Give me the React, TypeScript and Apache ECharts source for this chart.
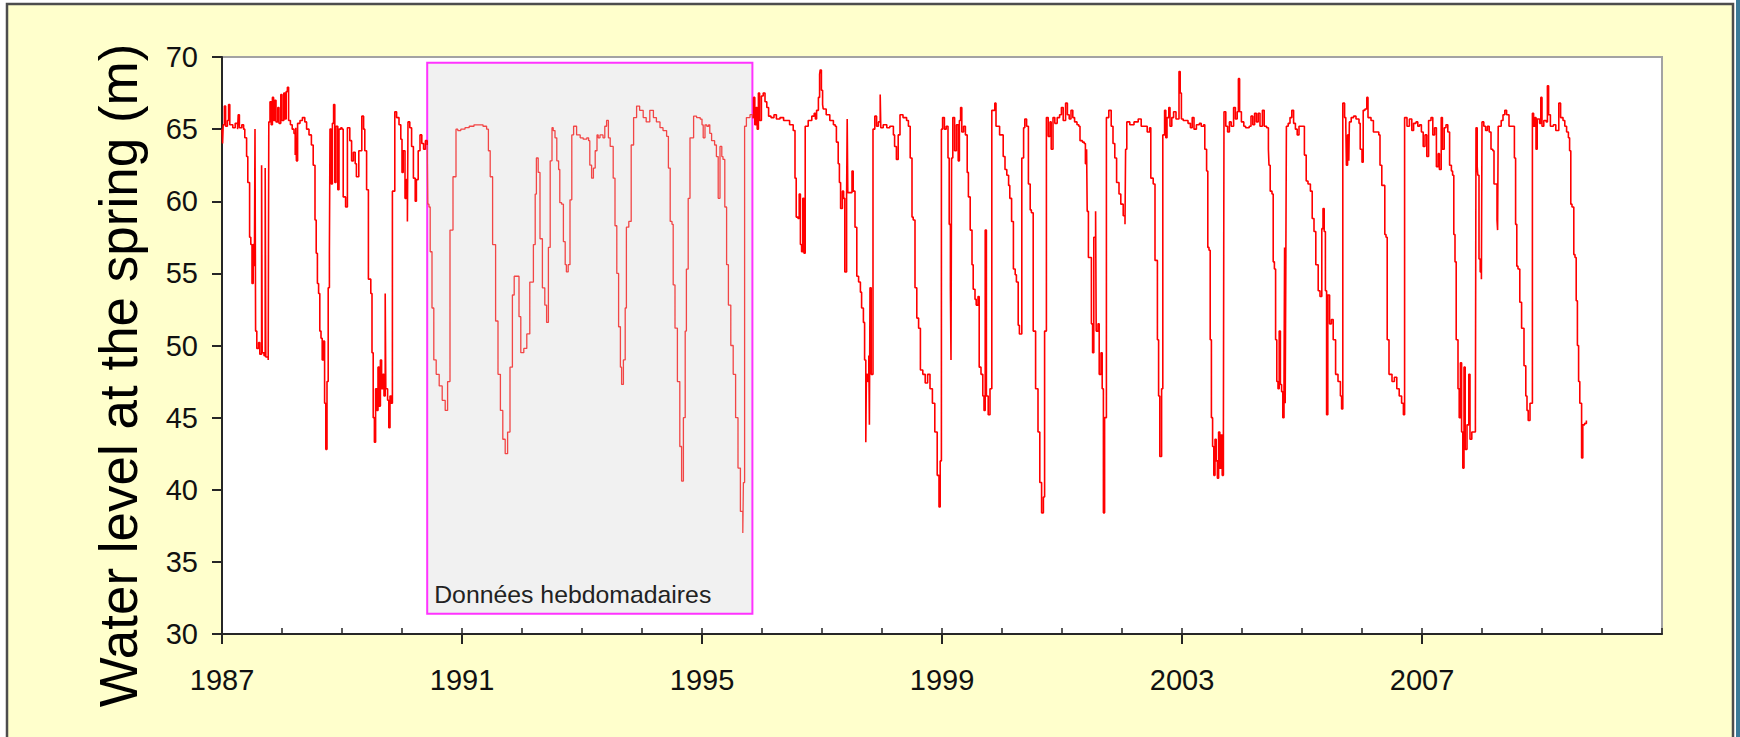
import React, { useEffect, useRef } from "react";
import * as echarts from "echarts";

// ---- axis setup ----
const BASE_YEAR = 1987; // x values are years elapsed since 1 Jan 1987
const X_MIN = 0;
const X_MAX = 24;
const X_MAJOR = 4;
const Y_MIN = 30;
const Y_MAX = 70;
const Y_STEP = 5;
const Y_TITLE = "Water level at the spring (m)";

// ---- weekly-data period (shaded box) ----
const BOX_LABEL = "Données hebdomadaires";
const BOX_YEARS = [3.42, 8.84];
const BOX_LEVELS = [31.4, 69.6];

// ---- water level readings: [years since 1987, level in m] ----
const DAILY_1987_1990: [number, number][] = [
  [0.0, 65.0], [0.01, 64.0], [0.02, 65.3], [0.04, 66.6], [0.06, 65.2], [0.09, 65.6], [0.11, 66.7], [0.13, 65.3],
  [0.18, 65.1], [0.22, 65.4], [0.26, 65.0], [0.27, 66.0], [0.29, 65.1], [0.33, 65.3], [0.36, 65.0], [0.38, 64.4],
  [0.41, 63.1], [0.43, 61.3], [0.46, 57.5], [0.48, 57.0], [0.5, 54.3], [0.52, 57.0], [0.54, 55.5], [0.55, 65.0],
  [0.56, 51.0], [0.58, 49.8], [0.61, 50.2], [0.63, 49.4], [0.66, 62.5], [0.67, 49.5], [0.7, 49.3], [0.72, 62.3],
  [0.73, 49.2], [0.77, 49.0], [0.78, 65.5], [0.8, 66.9], [0.82, 65.3], [0.84, 67.2], [0.86, 65.6], [0.88, 67.0],
  [0.9, 65.5], [0.93, 66.5], [0.95, 65.4], [0.98, 67.4], [1.0, 65.6], [1.03, 67.5], [1.05, 65.7], [1.07, 67.6],
  [1.09, 67.9], [1.11, 65.6], [1.14, 65.3], [1.17, 65.0], [1.2, 64.7], [1.22, 63.2], [1.23, 65.1], [1.24, 62.8],
  [1.26, 65.4], [1.3, 65.6], [1.34, 65.8], [1.38, 65.5], [1.41, 65.0], [1.45, 64.6], [1.49, 63.9], [1.52, 62.5],
  [1.55, 58.7], [1.57, 56.4], [1.59, 54.3], [1.61, 53.6], [1.63, 51.0], [1.65, 50.5], [1.67, 49.0], [1.69, 50.3],
  [1.71, 46.0], [1.73, 42.8], [1.75, 47.5], [1.77, 54.0], [1.79, 56.4], [1.8, 65.0], [1.82, 61.2], [1.84, 65.4],
  [1.86, 66.7], [1.88, 61.3], [1.9, 65.2], [1.93, 60.8], [1.95, 65.0], [1.98, 65.1], [2.0, 65.0], [2.02, 60.3],
  [2.06, 59.6], [2.09, 65.1], [2.13, 64.2], [2.16, 62.8], [2.19, 63.4], [2.22, 62.6], [2.24, 61.7], [2.28, 63.5],
  [2.33, 65.9], [2.36, 65.0], [2.38, 63.5], [2.41, 60.8], [2.44, 54.6], [2.48, 53.6], [2.5, 49.5], [2.52, 45.0],
  [2.54, 43.3], [2.56, 47.0], [2.58, 45.5], [2.6, 48.5], [2.62, 45.8], [2.64, 49.0], [2.66, 47.0], [2.68, 48.0],
  [2.7, 46.5], [2.72, 53.6], [2.73, 47.0], [2.76, 46.2], [2.78, 44.3], [2.8, 46.5], [2.82, 46.0], [2.84, 60.7],
  [2.88, 66.2], [2.91, 65.8], [2.95, 65.3], [2.98, 64.3], [3.0, 62.0], [3.02, 63.5], [3.05, 60.2], [3.07, 61.5],
  [3.09, 58.6], [3.1, 65.5], [3.13, 65.1], [3.16, 63.8], [3.19, 61.6], [3.22, 60.0], [3.24, 61.5], [3.27, 63.5],
  [3.3, 64.6], [3.33, 64.0], [3.36, 63.6], [3.39, 64.2], [3.42, 63.9],
];

const WEEKLY_1990_1995: [number, number][] = [
  [3.42, 63.9], [3.43, 59.8], [3.45, 59.6], [3.47, 56.5], [3.5, 52.6], [3.53, 49.0], [3.57, 48.0], [3.62, 47.2],
  [3.67, 46.2], [3.72, 45.5], [3.76, 47.5], [3.8, 58.0], [3.85, 61.7], [3.9, 65.0], [3.93, 64.9], [3.98, 65.0],
  [4.05, 65.1], [4.12, 65.2], [4.2, 65.3], [4.27, 65.3], [4.35, 65.2], [4.41, 65.0], [4.44, 63.5], [4.47, 61.7],
  [4.51, 57.0], [4.56, 51.7], [4.6, 48.0], [4.64, 45.5], [4.68, 43.5], [4.72, 42.5], [4.76, 44.0], [4.8, 48.5],
  [4.84, 53.5], [4.87, 54.8], [4.91, 54.8], [4.95, 52.0], [4.98, 49.5], [5.03, 49.8], [5.08, 50.8], [5.13, 54.4],
  [5.19, 57.0], [5.22, 60.5], [5.24, 63.0], [5.27, 62.0], [5.3, 57.4], [5.34, 54.0], [5.38, 52.8], [5.41, 51.6],
  [5.44, 56.8], [5.47, 62.8], [5.5, 65.1], [5.52, 64.9], [5.55, 64.4], [5.58, 62.8], [5.61, 62.2], [5.63, 59.9],
  [5.66, 59.8], [5.69, 57.2], [5.72, 55.6], [5.74, 55.1], [5.77, 55.6], [5.8, 60.1], [5.83, 64.6], [5.86, 65.2],
  [5.91, 64.6], [5.97, 64.4], [6.02, 64.3], [6.08, 64.4], [6.11, 64.2], [6.13, 62.5], [6.16, 61.6], [6.19, 62.3],
  [6.22, 63.5], [6.25, 64.6], [6.27, 64.4], [6.3, 64.6], [6.35, 64.4], [6.38, 65.2], [6.41, 65.6], [6.44, 64.4],
  [6.47, 63.8], [6.5, 63.8], [6.52, 61.6], [6.55, 58.3], [6.58, 55.0], [6.61, 51.3], [6.64, 48.5], [6.66, 47.3],
  [6.69, 49.0], [6.72, 52.6], [6.74, 58.2], [6.78, 58.6], [6.82, 63.9], [6.86, 65.8], [6.91, 66.6], [6.96, 66.3],
  [7.02, 65.8], [7.07, 65.5], [7.13, 66.3], [7.19, 65.8], [7.24, 65.5], [7.3, 65.1], [7.35, 64.9], [7.41, 64.5],
  [7.44, 62.3], [7.47, 58.6], [7.5, 58.4], [7.52, 54.2], [7.55, 51.2], [7.59, 47.5], [7.63, 43.0], [7.66, 40.6],
  [7.69, 45.0], [7.72, 51.0], [7.74, 55.3], [7.77, 60.2], [7.8, 64.4], [7.86, 65.9], [7.91, 65.8], [7.97, 65.7],
  [8.0, 65.3], [8.02, 64.4], [8.05, 65.3], [8.08, 65.2], [8.11, 65.3], [8.13, 64.7], [8.16, 64.2], [8.21, 63.9],
  [8.24, 63.1], [8.27, 60.2], [8.3, 63.8], [8.33, 63.1], [8.35, 62.9], [8.38, 59.6], [8.41, 55.6], [8.44, 52.8],
  [8.48, 50.0], [8.52, 48.0], [8.56, 45.0], [8.6, 41.5], [8.64, 38.5], [8.68, 37.0], [8.69, 40.5], [8.71, 65.2],
  [8.74, 65.8], [8.8, 66.0], [8.84, 65.8],
];

const DAILY_1995_2001: [number, number][] = [
  [8.84, 65.8], [8.86, 67.2], [8.88, 65.3], [8.9, 66.5], [8.92, 65.0], [8.94, 67.5], [8.96, 65.6], [8.99, 67.3],
  [9.02, 67.5], [9.05, 66.9], [9.08, 66.5], [9.11, 65.9], [9.15, 65.8], [9.2, 66.0], [9.24, 65.7], [9.3, 65.8],
  [9.36, 65.6], [9.41, 65.6], [9.46, 65.3], [9.52, 64.9], [9.55, 61.6], [9.57, 58.9], [9.6, 58.8], [9.62, 60.5],
  [9.64, 57.0], [9.66, 56.5], [9.68, 60.2], [9.7, 56.4], [9.72, 65.2], [9.77, 65.6], [9.83, 65.9], [9.87, 66.1],
  [9.89, 65.7], [9.91, 66.3], [9.94, 67.2], [9.96, 68.8], [9.97, 69.1], [9.99, 67.7], [10.01, 66.7], [10.02, 66.4],
  [10.07, 66.0], [10.13, 65.6], [10.19, 65.3], [10.22, 65.2], [10.24, 64.1], [10.27, 62.6], [10.29, 61.3], [10.31, 59.5],
  [10.34, 60.7], [10.36, 60.2], [10.38, 55.1], [10.41, 60.3], [10.42, 65.7], [10.43, 60.6], [10.47, 60.6], [10.5, 62.1],
  [10.52, 60.7], [10.55, 58.2], [10.58, 54.8], [10.61, 54.4], [10.64, 53.7], [10.66, 52.6], [10.69, 51.6], [10.71, 49.0],
  [10.73, 43.3], [10.74, 48.0], [10.76, 47.5], [10.78, 49.3], [10.79, 44.5], [10.8, 54.0], [10.82, 48.0], [10.85, 65.0],
  [10.88, 65.9], [10.91, 65.2], [10.94, 65.5], [10.97, 67.4], [10.98, 65.1], [11.02, 65.3], [11.08, 65.1], [11.13, 65.2],
  [11.19, 64.6], [11.21, 63.8], [11.24, 62.9], [11.27, 64.6], [11.3, 66.0], [11.35, 65.8], [11.41, 65.6], [11.44, 65.2],
  [11.47, 63.0], [11.5, 58.9], [11.52, 58.7], [11.55, 54.0], [11.58, 51.9], [11.61, 51.2], [11.64, 48.3], [11.68, 48.0],
  [11.72, 47.4], [11.76, 48.0], [11.8, 47.0], [11.84, 46.0], [11.88, 44.0], [11.92, 41.0], [11.95, 38.8], [11.97, 42.0],
  [11.99, 65.0], [12.01, 65.8], [12.04, 65.0], [12.07, 65.2], [12.1, 63.0], [12.12, 58.4], [12.14, 54.0], [12.15, 49.0],
  [12.16, 63.0], [12.18, 65.8], [12.21, 63.5], [12.24, 65.3], [12.27, 62.8], [12.29, 65.6], [12.31, 66.5], [12.33, 64.8],
  [12.36, 65.2], [12.39, 64.6], [12.42, 62.0], [12.44, 60.3], [12.47, 58.0], [12.5, 55.6], [12.52, 53.9], [12.55, 53.2],
  [12.57, 52.8], [12.6, 53.4], [12.62, 48.5], [12.65, 48.0], [12.68, 46.5], [12.7, 45.5], [12.72, 58.0], [12.74, 46.5],
  [12.77, 45.2], [12.8, 47.0], [12.83, 66.3], [12.88, 66.8], [12.9, 65.2], [12.93, 65.2], [12.96, 64.6], [13.02, 63.1],
  [13.05, 62.2], [13.08, 61.8], [13.11, 61.1], [13.13, 60.2], [13.16, 58.6], [13.19, 55.3], [13.22, 54.9], [13.24, 54.4],
  [13.27, 51.4], [13.29, 50.8], [13.33, 63.0], [13.36, 65.1], [13.38, 65.7], [13.41, 65.2], [13.44, 61.2], [13.47, 59.4],
  [13.49, 59.2], [13.52, 51.0], [13.56, 47.0], [13.6, 44.0], [13.63, 40.5], [13.66, 38.4], [13.69, 39.5], [13.71, 51.0],
  [13.74, 65.8], [13.77, 64.5], [13.8, 65.5], [13.82, 63.6], [13.85, 65.8], [13.88, 65.4], [13.92, 65.8], [13.96, 66.0],
  [13.99, 66.5], [14.02, 65.6], [14.06, 66.8], [14.09, 66.0], [14.12, 65.7], [14.15, 66.3], [14.18, 65.8], [14.21, 65.5],
  [14.25, 65.3], [14.28, 65.2], [14.3, 64.2], [14.34, 64.1], [14.37, 64.0], [14.39, 62.6], [14.41, 63.6], [14.42, 59.3],
  [14.44, 56.1], [14.47, 56.1], [14.49, 51.5], [14.51, 49.5], [14.53, 57.5], [14.56, 59.3], [14.57, 51.0], [14.6, 51.5],
  [14.62, 48.0], [14.65, 49.5], [14.67, 47.0], [14.69, 38.4], [14.71, 45.0],
];

const DAILY_2001_2009: [number, number][] = [
  [14.74, 65.8], [14.78, 66.3], [14.82, 65.2], [14.85, 64.0], [14.88, 63.0], [14.91, 61.3], [14.95, 60.5], [14.98, 59.8],
  [15.02, 59.0], [15.05, 58.4], [15.06, 63.6], [15.08, 65.5], [15.13, 65.3], [15.2, 65.5], [15.27, 65.7], [15.32, 65.2],
  [15.39, 65.2], [15.42, 64.8], [15.46, 65.1], [15.48, 61.6], [15.52, 61.2], [15.55, 55.9], [15.59, 50.4], [15.61, 46.5],
  [15.63, 42.3], [15.66, 47.0], [15.68, 64.6], [15.71, 66.3], [15.73, 64.4], [15.75, 65.8], [15.78, 66.5], [15.8, 65.2],
  [15.83, 65.8], [15.86, 66.2], [15.9, 65.7], [15.95, 69.0], [15.97, 67.5], [15.99, 65.7], [16.02, 65.6], [16.1, 65.4],
  [16.14, 65.1], [16.17, 65.8], [16.2, 65.0], [16.24, 65.3], [16.29, 65.4], [16.32, 65.2], [16.36, 65.3], [16.38, 63.6],
  [16.41, 62.1], [16.43, 56.8], [16.45, 56.6], [16.47, 50.4], [16.49, 45.0], [16.51, 43.0], [16.53, 41.0], [16.55, 43.5],
  [16.57, 42.0], [16.59, 40.8], [16.61, 44.0], [16.63, 41.5], [16.65, 43.8], [16.67, 41.0], [16.69, 44.0], [16.7, 66.2],
  [16.73, 65.2], [16.76, 64.8], [16.79, 65.5], [16.82, 65.2], [16.86, 66.5], [16.89, 65.7], [16.92, 66.2], [16.94, 68.5],
  [16.96, 66.2], [16.99, 65.5], [17.03, 65.2], [17.06, 65.1], [17.12, 65.2], [17.15, 65.9], [17.18, 65.3], [17.21, 66.1],
  [17.24, 65.5], [17.27, 66.1], [17.3, 65.2], [17.34, 66.3], [17.37, 65.2], [17.41, 65.1], [17.44, 63.6], [17.45, 62.5],
  [17.47, 60.7], [17.5, 60.5], [17.52, 55.8], [17.54, 55.3], [17.56, 50.4], [17.58, 47.5], [17.6, 47.0], [17.62, 51.0],
  [17.64, 47.3], [17.66, 46.8], [17.68, 45.0], [17.7, 47.0], [17.71, 56.8], [17.72, 46.0], [17.73, 55.1], [17.74, 65.2],
  [17.77, 65.4], [17.8, 65.8], [17.83, 66.3], [17.86, 65.4], [17.89, 65.0], [17.92, 64.6], [17.95, 65.2], [18.01, 65.2],
  [18.04, 63.2], [18.07, 61.4], [18.1, 61.2], [18.14, 60.7], [18.17, 58.8], [18.2, 57.9], [18.23, 55.6], [18.27, 53.8],
  [18.3, 53.4], [18.33, 58.1], [18.35, 59.5], [18.37, 57.9], [18.39, 53.8], [18.41, 45.2], [18.43, 53.5], [18.46, 51.5],
  [18.49, 51.8], [18.52, 50.4], [18.56, 48.0], [18.6, 47.5], [18.64, 46.5], [18.66, 45.6], [18.68, 66.8], [18.71, 65.8],
  [18.73, 65.2], [18.74, 62.5], [18.76, 64.6], [18.78, 62.8], [18.79, 65.5], [18.82, 65.8], [18.86, 65.9], [18.9, 65.7],
  [18.95, 65.4], [18.97, 63.6], [19.0, 62.7], [19.02, 66.3], [19.05, 66.4], [19.08, 67.2], [19.1, 65.8], [19.15, 65.6],
  [19.19, 64.8], [19.25, 64.8], [19.28, 64.6], [19.3, 62.5], [19.33, 61.1], [19.36, 61.1], [19.38, 57.7], [19.4, 57.5],
  [19.42, 50.4], [19.45, 48.0], [19.5, 47.5], [19.54, 47.8], [19.58, 47.0], [19.62, 46.5], [19.66, 46.0], [19.69, 45.2],
  [19.71, 65.8], [19.75, 65.2], [19.79, 65.7], [19.83, 64.9], [19.86, 65.4], [19.9, 65.5], [19.93, 65.2], [19.96, 65.3],
  [19.99, 64.8], [20.02, 63.8], [20.05, 64.6], [20.08, 63.1], [20.11, 65.6], [20.15, 65.8], [20.18, 64.6], [20.21, 65.1],
  [20.24, 62.4], [20.27, 63.3], [20.29, 62.2], [20.32, 65.8], [20.34, 63.6], [20.37, 65.1], [20.4, 65.3], [20.43, 64.8],
  [20.46, 62.5], [20.49, 62.1], [20.51, 61.8], [20.53, 57.7], [20.55, 55.8], [20.57, 50.4], [20.6, 47.0], [20.62, 45.0],
  [20.64, 48.8], [20.66, 44.0], [20.68, 41.5], [20.7, 48.5], [20.72, 42.8], [20.75, 44.5], [20.78, 48.0], [20.8, 43.5],
  [20.83, 44.0], [20.86, 44.0], [20.89, 45.0], [20.9, 65.1], [20.92, 62.4], [20.93, 61.8], [20.95, 56.0], [20.97, 55.1],
  [20.99, 54.6], [21.0, 65.5], [21.03, 65.2], [21.06, 64.9], [21.09, 65.2], [21.12, 64.8], [21.15, 63.6], [21.18, 63.5],
  [21.2, 61.2], [21.23, 61.2], [21.25, 58.7], [21.26, 58.0], [21.27, 65.2], [21.29, 65.2], [21.32, 65.6], [21.35, 66.0],
  [21.38, 66.3], [21.41, 66.0], [21.45, 65.2], [21.5, 65.2], [21.54, 63.0], [21.56, 58.4], [21.58, 55.5], [21.6, 55.3],
  [21.63, 53.0], [21.66, 51.2], [21.68, 51.2], [21.7, 48.6], [21.73, 46.5], [21.75, 45.5], [21.77, 44.8], [21.8, 46.0],
  [21.84, 66.1], [21.86, 65.2], [21.88, 65.8], [21.9, 63.6], [21.92, 65.7], [21.96, 65.4], [21.98, 67.2], [22.0, 65.2],
  [22.03, 65.6], [22.07, 65.5], [22.09, 68.0], [22.11, 66.0], [22.14, 65.2], [22.19, 65.3], [22.23, 64.9], [22.28, 66.8],
  [22.31, 65.8], [22.35, 65.6], [22.38, 65.2], [22.41, 64.8], [22.44, 64.4], [22.46, 63.5], [22.48, 59.8], [22.5, 59.6],
  [22.53, 56.3], [22.55, 56.1], [22.57, 53.1], [22.59, 50.0], [22.61, 47.5], [22.63, 46.0], [22.66, 42.2], [22.68, 44.5],
  [22.71, 44.6], [22.74, 44.8],
];

const FONT = "'Liberation Sans', Arial, Helvetica, sans-serif";
const AXIS_COLOR = "#262626";

export default function App() {
  const ref = useRef<HTMLDivElement>(null);

  useEffect(() => {
    if (!ref.current) return;
    const chart = echarts.init(ref.current, undefined, { renderer: "svg" });
    const gridRect = { left: 222, top: 57, width: 1440, height: 577 };

    chart.setOption({
      animation: false,
      backgroundColor: "#ffffff",
      graphic: [
        {
          type: "rect",
          z: -1,
          silent: true,
          shape: { x: 7, y: 4, width: 1726, height: 760 },
          style: { fill: "#FFFFCC", stroke: "#4d4d4d", lineWidth: 2.5 },
        },
        {
          type: "rect",
          z: -1,
          silent: true,
          shape: { x: 1736, y: 0, width: 4, height: 737 },
          style: { fill: "#3B7A98" },
        },
      ],
      grid: [
        {
          ...gridRect,
          show: true,
          backgroundColor: "#ffffff",
          borderColor: "#A3A3A3",
          borderWidth: 2,
        },
        { ...gridRect, show: false },
      ],
      xAxis: [
        {
          type: "value",
          gridIndex: 0,
          min: X_MIN,
          max: X_MAX,
          interval: X_MAJOR,
          axisLine: { onZero: false, lineStyle: { color: AXIS_COLOR, width: 2 } },
          axisTick: { show: true, length: 10, lineStyle: { color: AXIS_COLOR, width: 2 } },
          axisLabel: {
            showMaxLabel: false,
            formatter: (v: number) => String(BASE_YEAR + v),
            fontFamily: FONT,
            fontSize: 29,
            color: "#111",
            margin: 31,
          },
          splitLine: { show: false },
        },
        {
          type: "value",
          gridIndex: 1,
          min: X_MIN,
          max: X_MAX,
          interval: 1,
          axisLine: { show: false, onZero: false },
          axisTick: { show: true, inside: true, length: 6, lineStyle: { color: AXIS_COLOR, width: 1.5 } },
          axisLabel: { show: false },
          splitLine: { show: false },
        },
      ],
      yAxis: [
        {
          type: "value",
          gridIndex: 0,
          min: Y_MIN,
          max: Y_MAX,
          interval: Y_STEP,
          name: Y_TITLE,
          nameLocation: "middle",
          nameRotate: 90,
          nameGap: 77,
          nameTextStyle: {
            fontFamily: FONT,
            fontSize: 53,
            color: "#000",
            padding: [0, 60, 0, 0],
          },
          axisLine: { show: true, onZero: false, lineStyle: { color: AXIS_COLOR, width: 2 } },
          axisTick: { show: true, length: 10, lineStyle: { color: AXIS_COLOR, width: 2 } },
          axisLabel: { fontFamily: FONT, fontSize: 29, color: "#111", margin: 24 },
          splitLine: { show: false },
        },
        { type: "value", gridIndex: 1, min: Y_MIN, max: Y_MAX, show: false },
      ],
      series: [
        {
          type: "line",
          name: "daily",
          xAxisIndex: 0,
          yAxisIndex: 0,
          step: "end",
          showSymbol: false,
          symbol: "none",
          data: DAILY_1987_1990,
          lineStyle: { color: "#FF0000", width: 1.6 },
          z: 3,
        },
        {
          type: "line",
          name: "weekly",
          xAxisIndex: 0,
          yAxisIndex: 0,
          step: "end",
          showSymbol: false,
          symbol: "none",
          data: WEEKLY_1990_1995,
          lineStyle: { color: "#F24646", width: 1.3 },
          z: 3,
          markArea: {
            silent: true,
            itemStyle: { color: "#F1F1F1", borderColor: "#FF33FF", borderWidth: 2 },
            label: {
              show: true,
              position: "insideBottomLeft",
              distance: 8,
              formatter: BOX_LABEL,
              fontFamily: FONT,
              fontSize: 24.8,
              color: "#222",
            },
            data: [
              [
                { xAxis: BOX_YEARS[0], yAxis: BOX_LEVELS[1] },
                { xAxis: BOX_YEARS[1], yAxis: BOX_LEVELS[0] },
              ],
            ],
          },
        },
        {
          type: "line",
          name: "daily2",
          xAxisIndex: 0,
          yAxisIndex: 0,
          step: "end",
          showSymbol: false,
          symbol: "none",
          data: [...DAILY_1995_2001, ...DAILY_2001_2009],
          lineStyle: { color: "#FF0000", width: 1.6 },
          z: 3,
        },
      ],
    });

    return () => chart.dispose();
  }, []);

  return (
    <div
      ref={ref}
      style={{ position: "fixed", left: 0, top: 0, width: 1740, height: 737 }}
    />
  );
}
